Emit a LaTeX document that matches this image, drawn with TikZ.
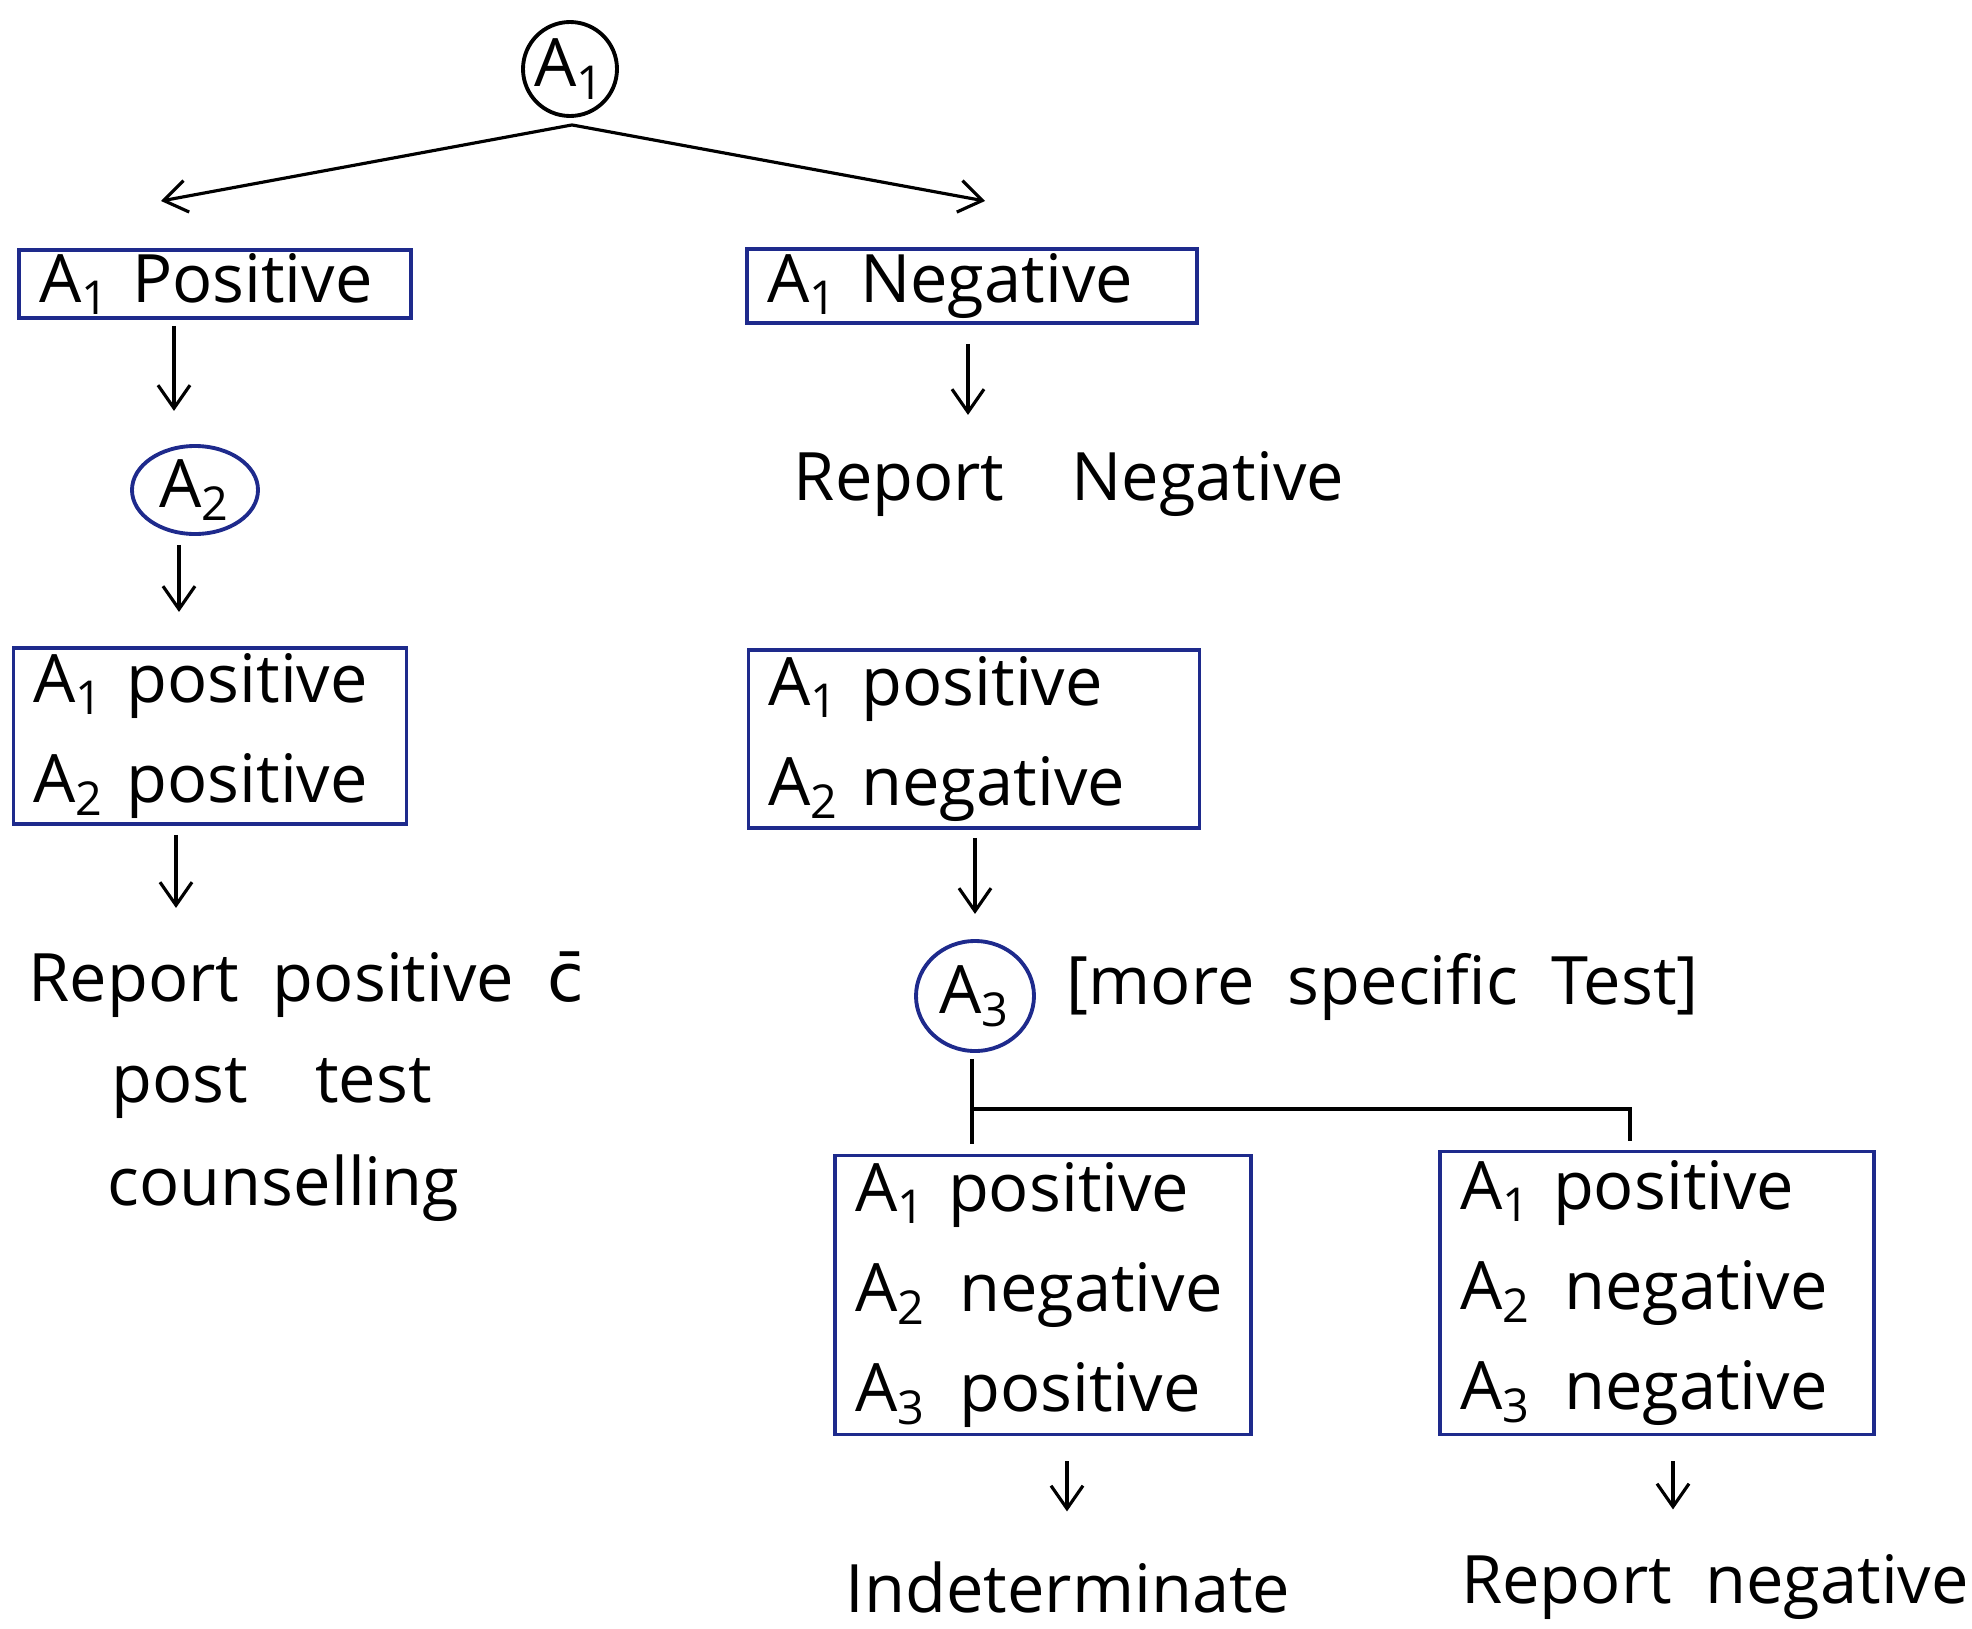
\documentclass[tikz,border=0pt]{standalone}
\usepackage{fontspec}
\setmainfont{Open Sans}
\newfontfamily\dejavu{DejaVu Sans}
\usepackage{tikz}
\usetikzlibrary{positioning,arrows.meta,calc,shapes.geometric}
\definecolor{testblue}{HTML}{1E2A8C}
\tikzset{
  box/.style={draw=testblue, line width=1.1pt, align=left, inner xsep=2mm, inner ysep=0pt,
              font=\fontsize{19}{28.5}\selectfont},
  testnode/.style={ellipse, draw=testblue, line width=1.1pt, inner sep=0pt,
              font=\fontsize{19}{28.5}\selectfont},
  lbl/.style={inner sep=0pt, font=\fontsize{19}{28.5}\selectfont},
  flowarr/.style={-{Straight Barb[length=2.3mm,width=3.2mm]}, line width=0.9pt},
  joint/.style={line width=0.9pt},
}

\begin{document}
\begin{tikzpicture}[x=0.1mm, y=-0.1mm]
  \useasboundingbox (0,0) rectangle (1972,1629);
  % TOP: first test and its split
  \node[testnode, circle, draw=black, minimum size=9.4mm] (a1) at (570,69) {A\textsubscript{1}};
  \coordinate (apex) at ([shift={(2,7)}]a1.south);
  \coordinate (lt) at (161,201);
  \coordinate (rt) at (985,201);
  \draw[flowarr] (apex) -- (lt);
  \draw[flowarr] (apex) -- (rt);
  \node[box, text width=35.2mm, minimum height=6.8mm] (pos1) at (215,284) {A\textsubscript{1} Positive};
  \node[box, text width=41mm, minimum height=7.4mm] (neg1) at (972,286) {A\textsubscript{1} Negative};
  % LEFT: second test
  \node[testnode, minimum width=12.6mm, minimum height=8.8mm] (a2) at (195,490) {A\textsubscript{2}};
  \node[box, text width=35.3mm, minimum height=17.6mm] (pp) at (210,736)
    {A\textsubscript{1} positive\\ A\textsubscript{2} positive};
  \node[lbl, anchor=west] (reppos) at (28,985) {Report\enspace positive\enspace {\dejavu c̄}};
  \node[lbl, anchor=west] (posttest) at (111,1088) {post\quad test};
  \node[lbl, anchor=west] (counsel) at (107,1188) {counselling};
  \draw[flowarr] ([shift={(-41,6)}]pos1.south) -- ++(0,85);
  \draw[flowarr] ([shift={(-16,9)}]a2.south) -- ++(0,67);
  \draw[flowarr] ([shift={(-34,9)}]pp.south) -- ++(0,73);
  % RIGHT: negative branch and third test
  \node[lbl] (repneg) at (1069,484) {Report\quad Negative};
  \node[box, text width=41.1mm, minimum height=17.8mm] (pn) at (974,739)
    {A\textsubscript{1} positive\\ A\textsubscript{2} negative};
  \node[testnode, minimum width=11.8mm, minimum height=11mm] (a3) at (975,996) {A\textsubscript{3}};
  \node[lbl, anchor=west] (spec) at (1066,987) {[more\enspace specific\enspace Test]};
  \draw[flowarr] ([shift={(-4,19)}]neg1.south) -- ++(0,71);
  \draw[flowarr] ([shift={(1,8)}]pn.south) -- ++(0,76);
  \node[box, text width=37.6mm, minimum height=27.9mm] (ppn) at (1043,1295)
    {A\textsubscript{1} positive\\ A\textsubscript{2}\enspace negative\\ A\textsubscript{3}\enspace positive};
  \node[box, text width=39.4mm, minimum height=28.3mm] (pnn) at (1657,1293)
    {A\textsubscript{1} positive\\ A\textsubscript{2}\enspace negative\\ A\textsubscript{3}\enspace negative};
  \draw[joint] ([shift={(-3,6)}]a3.south) -- ++(0,85);
  \draw[joint] ([shift={(-3,56)}]a3.south) -| ([shift={(-27,-9)}]pnn.north);
  \node[lbl] (indet) at (1068,1587) {Indeterminate};
  \node[lbl] (repneg2) at (1715,1587) {Report\enspace negative};
  \draw[flowarr] ([shift={(24,25)}]ppn.south) -- ++(0,50);
  \draw[flowarr] ([shift={(16,25)}]pnn.south) -- ++(0,48);
\end{tikzpicture}
\end{document}
